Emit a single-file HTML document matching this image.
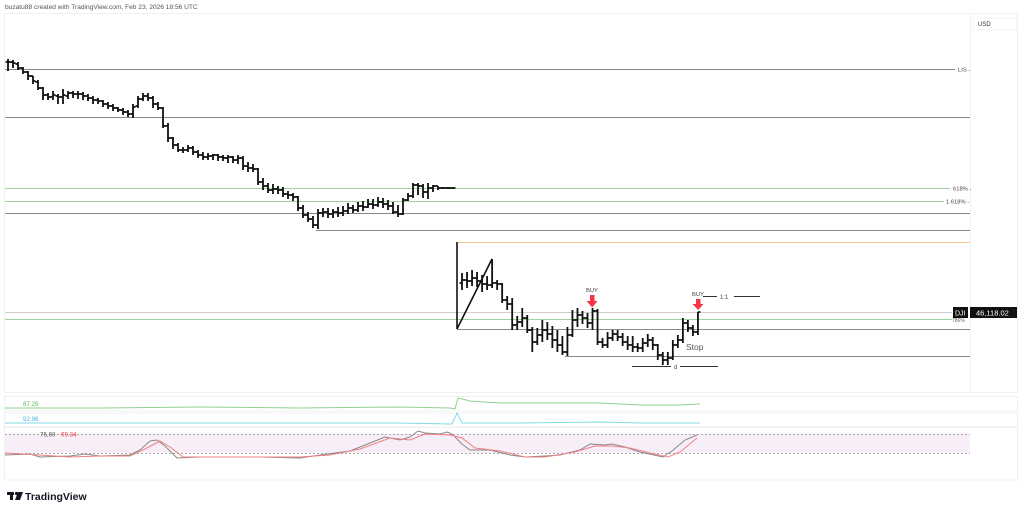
<!DOCTYPE html>
<html><head><meta charset="utf-8">
<style>
html,body{margin:0;padding:0;background:#fff;}
body{width:1024px;height:512px;overflow:hidden;position:relative;font-family:"Liberation Sans",sans-serif;}
svg{position:absolute;left:0;top:0;}
text{font-family:"Liberation Sans",sans-serif;}
</style></head><body>
<svg id="c" width="1024" height="512" viewBox="0 0 1024 512" xmlns="http://www.w3.org/2000/svg">
<rect width="1024" height="512" fill="#fff"/>
<text x="5" y="9" font-size="6.6" fill="#555">buzatu88 created with TradingView.com, Feb 23, 2026 18:56 UTC</text>
<g stroke="#f0f0f0" stroke-width="1" fill="none">
<rect x="4.5" y="13.5" width="1013" height="379"/>
<rect x="4.5" y="396.5" width="1013" height="14.5"/>
<rect x="4.5" y="413" width="1013" height="14"/>
<rect x="4.5" y="427.5" width="1013" height="52.5"/>
<line x1="970.5" y1="14" x2="970.5" y2="392"/>
</g>
<rect x="973" y="18" width="44" height="12" fill="#fff" stroke="#f0f0f0"/>
<text x="978" y="26" font-size="6" fill="#333">USD</text>
<g stroke-width="1" fill="none">
<line x1="5" y1="69.5" x2="955" y2="69.5" stroke="#8a8a8a"/>
<line x1="5" y1="117.5" x2="970" y2="117.5" stroke="#8a8a8a"/>
<line x1="5" y1="188.5" x2="950" y2="188.5" stroke="#9fd49f"/>
<line x1="5" y1="201.5" x2="944" y2="201.5" stroke="#9fd49f"/>
<line x1="5" y1="213.5" x2="970" y2="213.5" stroke="#8a8a8a"/>
<line x1="316" y1="230.5" x2="970" y2="230.5" stroke="#8a8a8a"/>
<line x1="457" y1="242.5" x2="970" y2="242.5" stroke="#f8c98f"/>
<line x1="5" y1="312.5" x2="952" y2="312.5" stroke="#cfcfcf"/>
<line x1="5" y1="319.5" x2="952" y2="319.5" stroke="#9fd49f"/>
<line x1="457" y1="329.5" x2="970" y2="329.5" stroke="#8a8a8a"/>
<line x1="565" y1="356.5" x2="970" y2="356.5" stroke="#8a8a8a"/>
<line x1="632" y1="366.5" x2="671" y2="366.5" stroke="#333"/>
<line x1="680" y1="366.5" x2="718" y2="366.5" stroke="#333"/>
<line x1="703" y1="296.5" x2="717" y2="296.5" stroke="#333"/>
<line x1="734" y1="296.5" x2="760" y2="296.5" stroke="#333"/>
</g>
<g font-size="5.8" fill="#444">
<text x="958" y="71.5">LIS -</text>
<text x="953" y="190.5">618% -</text>
<text x="946" y="203.5">1.618% -</text>
<text x="952" y="322" font-size="5" fill="#666">786%</text>
<text x="674" y="369" font-size="6">d</text>
<text x="720" y="299" font-size="6">1:1</text>
</g>
<text x="686" y="350" font-size="8.5" fill="#555">Stop</text>
<path id="bars" fill="none" stroke="#111" stroke-width="1.8" d=""/>
<path fill="none" stroke="#111" stroke-width="1.6" d="M457 242V329L492 259"/>
<g fill="#f23645">
<rect x="590" y="295" width="4.5" height="6"/>
<polygon points="586.5,301 597.5,301 592.2,307.5"/>
<rect x="696" y="299" width="4.5" height="5"/>
<polygon points="692.5,304 703.5,304 698.2,310"/>
</g>
<text x="586" y="292" font-size="5.8" fill="#444">BUY</text>
<text x="692" y="296" font-size="5.8" fill="#444">BUY</text>
<rect x="953" y="307" width="15" height="11" fill="#111"/>
<text x="955" y="315.5" font-size="7" fill="#fff">DJI</text>
<rect x="970" y="307" width="47" height="11" fill="#111"/>
<text x="976" y="315.5" font-size="7.5" fill="#fff">46,118.02</text>
<polyline fill="none" stroke="#8fd18f" stroke-width="1" points="5,408 100,408 200,407 300,408 400,407 450,408 455,409 458,398 470,401 500,403 560,403 600,403 640,405 680,405 700,404"/>
<text x="23" y="406" font-size="6.2" fill="#5cb85c">67.29</text>
<polyline fill="none" stroke="#7fdbe6" stroke-width="1" points="5,423 100,423 200,423 300,423 400,423 450,424 452,424 457,413 462,423 520,423 600,422 640,423 700,423"/>
<text x="23" y="421" font-size="6.2" fill="#4ab8d8">92.96</text>
<rect x="5" y="434" width="965" height="19" fill="#f7eef8"/>
<line x1="5" y1="434.5" x2="970" y2="434.5" stroke="#aaa" stroke-dasharray="2,2"/>
<line x1="5" y1="453.5" x2="970" y2="453.5" stroke="#aaa" stroke-dasharray="2,2"/>
<polyline fill="none" stroke="#888" stroke-width="1" points="5,455 30,454 40,457 70,456 85,454 100,456 130,455 140,450 150,441 157,440 165,446 177,458 200,457 260,457 300,458 320,455 350,451 385,437 400,440 410,437 418,431 425,433 440,434 447,432 452,434 462,444 470,450 490,450 510,455 525,457 545,456 560,455 580,450 590,444 605,445 612,444 625,447 640,452 663,457 672,451 685,440 697,435"/>
<polyline fill="none" stroke="#f08080" stroke-width="1" points="5,453 40,455 70,457 100,456 130,456 145,449 160,441 170,447 183,457 260,457 300,457 330,455 360,449 390,438 410,440 425,434 450,435 462,438 475,448 500,451 525,457 545,457 575,452 595,446 612,446 630,448 650,453 668,457 680,452 697,438"/>
<text x="40" y="436.5" font-size="6.2" fill="#555">76.60</text>
<text x="61" y="436.5" font-size="6.2" fill="#f23645">69.34</text>
<g fill="#131722">
<rect x="7" y="492" width="7" height="3"/>
<rect x="10" y="492" width="3" height="8"/>
<circle cx="16.5" cy="493.5" r="1.6"/>
<polygon points="18,492 23,492 20,500 15,500"/>
</g>
<text x="25" y="500" font-size="10.5" font-weight="bold" fill="#131722">TradingView</text>
</svg>
<script>
(function(){
var s1=[[62,59,71,62],[62,60,68,63],[64,62,70,68],[68,67,74,72],[72,71,80,76],[76,76,84,81],[82,80,90,88],[88,87,100,95],[95,93,100,97],[97,91,100,95],[96,94,104,97],[97,89,104,95],[96,91,99,93],[93,91,98,94],[94,91,99,94],[94,92,100,96],[96,94,101,98],[98,96,104,100],[100,98,104,101],[101,100,107,104],[104,102,109,106],[106,104,111,108],[108,107,112,110],[110,108,115,112],[112,110,117,114],[114,104,118,107],[106,96,108,99],[99,93,101,96],[96,93,101,98],[98,96,108,104],[104,102,110,108],[108,107,128,126],[126,123,142,138],[138,137,149,145],[145,143,152,150],[150,147,153,150],[150,145,152,148],[148,146,155,152],[152,150,158,155],[155,152,160,157],[157,153,160,156],[156,154,160,155],[155,154,161,157],[157,155,161,158],[158,155,163,157],[157,156,163,160],[160,155,164,158],[158,156,170,166],[166,162,172,168],[168,164,172,169],[169,168,185,182],[182,178,190,186],[186,183,193,190],[190,184,194,189],[189,186,194,190],[190,187,197,194],[194,191,199,195],[195,193,201,197],[197,196,211,208],[208,205,218,215],[215,212,222,219],[219,216,228,225],[225,209,229,213],[213,208,217,212],[212,208,218,214],[214,209,218,212],[212,207,217,213],[213,206,216,211],[211,203,214,208],[208,205,213,210],[210,202,212,206],[206,201,211,207],[207,199,208,204],[204,199,209,205],[205,197,207,202],[202,198,208,204],[204,200,210,206],[206,202,214,212],[212,205,217,214],[214,198,215,200],[200,193,201,196],[196,183,198,185],[185,183,195,186],[186,184,198,192],[192,183,199,188],[188,185,192,186],[186,186,190,188],[188,187,189,188],[188,187,189,188],[188,188,189,188]];
var s2=[[283,273,290,280],[280,272,288,281],[281,270,286,278],[278,272,287,281],[281,275,292,284],[284,276,290,285],[285,259,288,283],[283,280,290,284],[284,283,303,300],[300,296,310,304],[304,298,330,325],[325,316,330,322],[322,308,327,318],[318,315,333,330],[330,327,352,342],[342,328,345,335],[335,320,342,330],[330,322,340,334],[334,326,348,340],[340,330,352,345],[345,336,355,352],[352,327,356,335],[335,310,337,320],[320,308,327,315],[315,311,324,318],[318,313,328,323],[323,308,330,311],[311,309,345,342],[342,338,348,345],[345,332,348,338],[338,330,341,334],[334,330,341,337],[337,333,346,342],[342,336,350,345],[345,336,352,347],[347,343,352,348],[348,338,352,343],[343,334,347,340],[340,337,350,345],[345,344,360,355],[355,352,365,360],[360,352,365,358],[358,340,360,345],[345,335,348,340],[340,318,343,323],[323,320,332,328],[328,325,336,332],[332,312,335,312]];
var d="";
function add(arr,x0,st){for(var i=0;i<arr.length;i++){var b=arr[i],x=x0+i*st;d+="M"+x+" "+b[1]+"V"+b[2]+"M"+(x-2.5)+" "+b[0]+"H"+x+"M"+x+" "+b[3]+"H"+(x+2.5);}}
add(s1,8,5);add(s2,462,5.02);
document.getElementById("bars").setAttribute("d",d);
})();
</script>
</body></html>
